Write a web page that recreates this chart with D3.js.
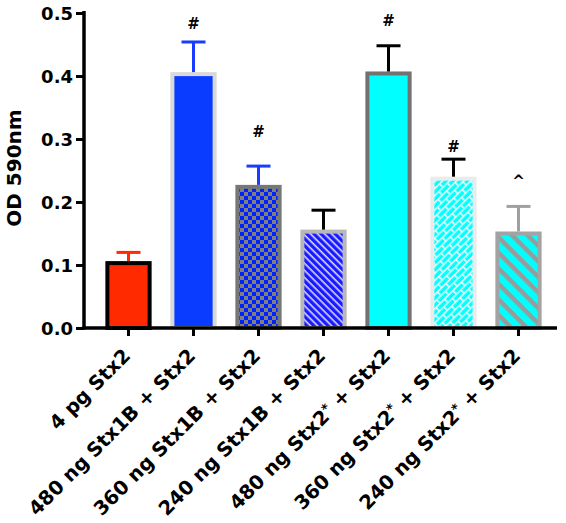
<!DOCTYPE html>
<html>
<head>
<meta charset="utf-8">
<script src="https://cdn.jsdelivr.net/npm/d3@7"></script>
<style>
  html, body { margin: 0; padding: 0; background: #fff; }
  text { font-family: "DejaVu Sans", Verdana, sans-serif; }
</style>
</head>
<body>
<svg id="chart" width="566" height="523"></svg>
<script>
// ---- data ----
const categories = [
  ["4 pg Stx2"],
  ["480 ng Stx1B + Stx2"],
  ["360 ng Stx1B + Stx2"],
  ["240 ng Stx1B + Stx2"],
  ["480 ng Stx2", "*", " + Stx2"],
  ["360 ng Stx2", "*", " + Stx2"],
  ["240 ng Stx2", "*", " + Stx2"]
];
const means = [0.103, 0.403, 0.224, 0.153, 0.404, 0.237, 0.150];
const errUpper = [0.120, 0.454, 0.257, 0.187, 0.448, 0.268, 0.193];
const annotations = ["", "#", "#", "", "#", "#", "^"];
const annotationY = [0, 0.475, 0.303, 0, 0.479, 0.279, 0.226];
const yTicks = [0.0, 0.1, 0.2, 0.3, 0.4, 0.5];
const yLabel = "OD 590nm";

// ---- styles per bar ----
const fills = ["#ff2a00", "#0a3cff", "url(#checker)", "url(#blueStripe)", "#00ffff", "url(#brick)", "url(#cyanStripe)"];
const strokes = ["#000000", "#d9d9d9", "#777777", "#b8b8b8", "#727272", "#ebebeb", "#a3a3a3"];
const errColors = ["#ff2a00", "#1a3cff", "#1a3cff", "#000000", "#000000", "#000000", "#a0a0a0"];

const svg = d3.select("#chart");
const defs = svg.append("defs");

// checkerboard
const pc = defs.append("pattern").attr("id", "checker").attr("patternUnits", "userSpaceOnUse")
  .attr("width", 8).attr("height", 8);
pc.append("rect").attr("width", 8).attr("height", 8).attr("fill", "#808080");
pc.append("rect").attr("x", 0).attr("y", 0).attr("width", 4).attr("height", 4).attr("fill", "#0022ff");
pc.append("rect").attr("x", 4).attr("y", 4).attr("width", 4).attr("height", 4).attr("fill", "#0022ff");

// thin blue/white diagonal stripes
const pb = defs.append("pattern").attr("id", "blueStripe").attr("patternUnits", "userSpaceOnUse")
  .attr("width", 5).attr("height", 5).attr("patternTransform", "rotate(45)");
pb.append("rect").attr("width", 5).attr("height", 5).attr("fill", "#1a1aff");
pb.append("rect").attr("y", 0).attr("width", 5).attr("height", 1.6).attr("fill", "#d8d8ff");

// cyan/gray thick diagonal stripes
const ps = defs.append("pattern").attr("id", "cyanStripe").attr("patternUnits", "userSpaceOnUse")
  .attr("width", 11).attr("height", 11).attr("patternTransform", "rotate(45)");
ps.append("rect").attr("width", 11).attr("height", 11).attr("fill", "#00ffff");
ps.append("rect").attr("y", 0).attr("width", 11).attr("height", 4.5).attr("fill", "#9a9a9a");

// brick pattern cyan/white
const pr = defs.append("pattern").attr("id", "brick").attr("patternUnits", "userSpaceOnUse")
  .attr("width", 12).attr("height", 10).attr("patternTransform", "rotate(-45)");
pr.append("rect").attr("width", 12).attr("height", 10).attr("fill", "#00ffff");
pr.append("rect").attr("x", 0).attr("y", 0).attr("width", 12).attr("height", 1.5).attr("fill", "#f0ffff");
pr.append("rect").attr("x", 0).attr("y", 5).attr("width", 12).attr("height", 1.5).attr("fill", "#f0ffff");
pr.append("rect").attr("x", 0).attr("y", 0).attr("width", 1.5).attr("height", 5).attr("fill", "#f0ffff");
pr.append("rect").attr("x", 6).attr("y", 5).attr("width", 1.5).attr("height", 5).attr("fill", "#f0ffff");

// ---- scales ----
const x = d3.scaleBand().domain(d3.range(categories.length))
  .range([96, 551]).paddingInner(0.35).paddingOuter(0.175);
const y = d3.scaleLinear().domain([0, 0.5]).range([328, 13]);

// ---- bars ----
const g = svg.append("g");
g.selectAll("rect.bar").data(means).join("rect")
  .attr("class", "bar")
  .attr("x", (d, i) => x(i))
  .attr("y", d => y(d))
  .attr("width", x.bandwidth())
  .attr("height", d => y(0) - y(d))
  .attr("fill", (d, i) => fills[i])
  .attr("stroke", (d, i) => strokes[i])
  .attr("stroke-width", 4);

// ---- error bars (upper only) ----
const capW = 24;
const eg = g.selectAll("g.err").data(means).join("g").attr("class", "err");
eg.append("line")
  .attr("x1", (d, i) => x(i) + x.bandwidth() / 2)
  .attr("x2", (d, i) => x(i) + x.bandwidth() / 2)
  .attr("y1", d => y(d) - 2)
  .attr("y2", (d, i) => y(errUpper[i]))
  .attr("stroke", (d, i) => errColors[i]).attr("stroke-width", 3);
eg.append("line")
  .attr("x1", (d, i) => x(i) + x.bandwidth() / 2 - capW / 2)
  .attr("x2", (d, i) => x(i) + x.bandwidth() / 2 + capW / 2)
  .attr("y1", (d, i) => y(errUpper[i]))
  .attr("y2", (d, i) => y(errUpper[i]))
  .attr("stroke", (d, i) => errColors[i]).attr("stroke-width", 3);

// ---- annotations ----
g.selectAll("text.ann").data(annotations).join("text")
  .attr("class", "ann")
  .attr("x", (d, i) => x(i) + x.bandwidth() / 2)
  .attr("y", (d, i) => y(annotationY[i]))
  .attr("text-anchor", "middle")
  .attr("font-size", 15)
  .attr("font-weight", "bold")
  .attr("fill", "#000")
  .text(d => d);

// ---- axes ----
const yAxis = svg.append("g").attr("transform", "translate(84,0)")
  .call(d3.axisLeft(y).tickValues(yTicks).tickFormat(d3.format(".1f")).tickSize(8).tickSizeOuter(0));
yAxis.select(".domain").attr("stroke-width", 3.5).attr("d", "M0,11V329.5");
yAxis.selectAll(".tick line").attr("stroke-width", 3);
yAxis.selectAll(".tick text").attr("font-size", 18).attr("font-weight", "bold")
  .attr("font-family", "DejaVu Sans").attr("x", -11).attr("dy", "0.36em");

const xAxis = svg.append("g").attr("transform", "translate(0,328)")
  .call(d3.axisBottom(x).tickSize(8).tickSizeOuter(0).tickFormat(""));
xAxis.select(".domain").attr("stroke-width", 3.5).attr("d", "M82.5,0H557");
xAxis.selectAll(".tick line").attr("stroke-width", 3);

// ---- x labels ----
const xl = svg.append("g").selectAll("text.xl").data(categories).join("text")
  .attr("class", "xl")
  .attr("text-anchor", "end")
  .attr("font-size", 19.5)
  .attr("font-weight", "bold")
  .attr("fill", "#000")
  .attr("transform", (d, i) => `translate(${x(i) + x.bandwidth() / 2 + 3},${357}) rotate(-45)`);
xl.each(function (parts) {
  const t = d3.select(this);
  parts.forEach((p, k) => {
    const ts = t.append("tspan").text(p);
    if (p === "*") ts.attr("font-size", 13).attr("dy", "-0.45em");
    if (k === 2) ts.attr("dy", "0.3em");
  });
});

// ---- y label ----
svg.append("text")
  .attr("transform", "translate(21,168) rotate(-90)")
  .attr("text-anchor", "middle")
  .attr("font-size", 20)
  .attr("font-weight", "bold")
  .text(yLabel);
</script>
</body>
</html>
